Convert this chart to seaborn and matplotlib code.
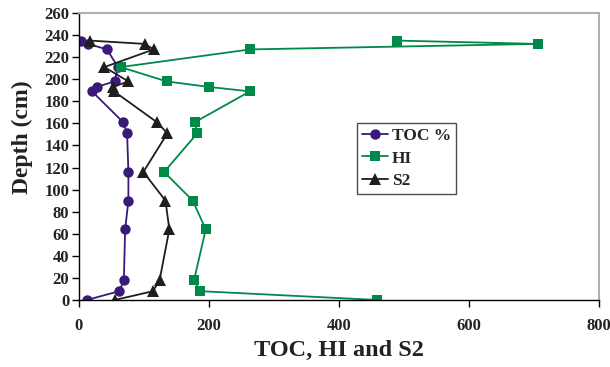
import matplotlib
matplotlib.use("Agg")
import matplotlib.pyplot as plt
import seaborn as sns
import pandas as pd

depth = [235, 232, 227, 211, 198, 193, 189, 161, 151, 116, 90, 64, 18, 8, 0]
toc = [3, 14, 43, 60, 55, 27, 20, 68, 74, 76, 76, 71, 69, 62, 12]
hi = [489, 706, 263, 64, 135, 200, 263, 178, 182, 131, 175, 195, 177, 186, 459]
s2 = [17, 101, 115, 39, 76, 52, 54, 120, 136, 99, 133, 139, 124, 114, 55]

series_names = ["TOC %", "HI", "S2"]
x_ticks = [0, 200, 400, 600, 800]
y_ticks = list(range(0, 261, 20))

sns.set_theme(style="white")
plt.rcParams["font.family"] = ["Liberation Serif", "DejaVu Serif"]
plt.rcParams["font.weight"] = "bold"

fig = plt.figure(figsize=(6.1, 3.67), dpi=100)
ax = fig.add_axes([0.1295, 0.1826, 0.8525, 0.782])

styles = [
    ("#3a1a78", "o", 7.5),
    ("#008a4a", "s", 7.0),
    ("#1e1e1e", "^", 8.0),
]
for name, vals, (col, mk, ms) in zip(series_names, [toc, hi, s2], styles):
    df = pd.DataFrame({"x": vals, "depth": depth})
    sns.lineplot(data=df, x="x", y="depth", sort=False, estimator=None,
                 color=col, marker=mk, markersize=ms, markeredgewidth=0,
                 linewidth=1.3, label=name, ax=ax)

ax.set_xlim(0, 800)
ax.set_ylim(0, 260)
ax.set_xticks(x_ticks)
ax.set_yticks(y_ticks)
ax.tick_params(axis="both", which="major", direction="out", length=5, width=1,
               color="black", labelsize=12, pad=2, bottom=True, left=True)
for lab in ax.get_xticklabels() + ax.get_yticklabels():
    lab.set_fontweight("bold")
    lab.set_color("#222222")
ax.xaxis.set_tick_params(pad=8)

ax.set_xlabel("TOC, HI and S2", fontsize=17.5, fontweight="bold", color="#222222", labelpad=4)
ax.set_ylabel("Depth (cm)", fontsize=17, fontweight="bold", color="#222222")
ax.yaxis.set_label_coords(-0.088, 0.568)

for side in ["left", "bottom"]:
    ax.spines[side].set_color("black")
    ax.spines[side].set_linewidth(1.0)
for side in ["top", "right"]:
    ax.spines[side].set_color("#b0b0b0")
    ax.spines[side].set_linewidth(1.5)

leg = ax.legend(loc="upper left", bbox_to_anchor=(0.535, 0.617), borderaxespad=0,
                frameon=True, fancybox=False, edgecolor="#222222",
                prop={"weight": "bold", "size": 12.5}, handlelength=1.45,
                labelspacing=0.35, borderpad=0.3, handletextpad=0.25)
leg.get_frame().set_linewidth(1.0)

fig.savefig("out.png", dpi=100)
